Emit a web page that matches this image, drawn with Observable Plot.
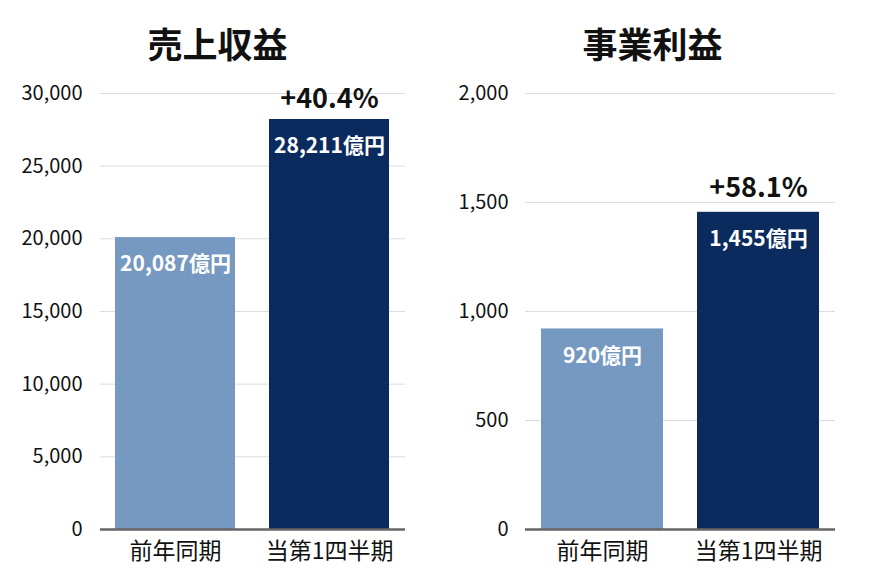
<!DOCTYPE html>
<html><head><meta charset="utf-8">
<script src="https://cdn.jsdelivr.net/npm/d3@7"></script>
<script src="https://cdn.jsdelivr.net/npm/@observablehq/plot@0.6"></script>
<style>
html,body{margin:0;padding:0;background:#fff;}
body{width:870px;height:583px;overflow:hidden;font-family:"Noto Sans CJK JP","Noto Sans",sans-serif;}
#wrap{display:flex;}
.panel{width:435px;}
.title{height:75px;line-height:86px;font-size:35px;font-weight:700;color:#111;text-align:center;}
</style></head>
<body><div id="wrap"></div>
<script>
const periods = ["前年同期", "当第1四半期"];
const revenue = [20087, 28211];
const profit = [920, 1455];
const revenueGrowth = "+40.4%";
const profitGrowth = "+58.1%";
const revenueTicks = [0, 5000, 10000, 15000, 20000, 25000, 30000];
const profitTicks = [0, 500, 1000, 1500, 2000];
const titles = ["売上収益", "事業利益"];
const barColors = ["#7599c0", "#0b2b5f"];

const font = '"Noto Sans CJK JP","Noto Sans",sans-serif';

function panel(title, values, growth, ticks, opts) {
  const data = periods.map((p, i) => ({period: p, value: values[i]}));
  const div = document.createElement("div");
  div.className = "panel";
  const t = document.createElement("div");
  t.className = "title";
  t.textContent = title;
  div.appendChild(t);
  const plot = Plot.plot({
    width: 435,
    height: 508,
    marginTop: 18,
    marginBottom: 54,
    marginLeft: opts.ml,
    marginRight: opts.mr,
    style: {fontFamily: font, background: "#fff", color: "#222"},
    x: {domain: periods, paddingInner: 0.22, paddingOuter: 0.1, label: null},
    y: {domain: [0, ticks[ticks.length - 1]], label: null},
    color: {domain: periods, range: barColors},
    marks: [
      Plot.gridY(ticks, {stroke: "#dcdcdc", strokeOpacity: 1, strokeWidth: 1}),
      Plot.axisY(ticks, {tickSize: 0, tickPadding: opts.tp, fontSize: 20, tickFormat: d3.format(","), fill: "#111", label: null}),
      Plot.axisX({tickSize: 0, tickPadding: 13, fontSize: 23, fill: "#111", label: null}),
      Plot.barY(data, {x: "period", y: "value", fill: "period"}),
      Plot.ruleY([0], {stroke: "#666", strokeWidth: 2.5}),
      Plot.text(data, {x: "period", y: "value", text: d => d3.format(",")(d.value) + "億円", dy: 27, fill: "#fff", fontSize: 21, fontWeight: 700}),
      Plot.text([data[1]], {x: "period", y: "value", text: () => growth, dy: opts.gdy, fill: "#111", fontSize: 27, fontWeight: 700})
    ]
  });
  div.appendChild(plot);
  document.getElementById("wrap").appendChild(div);
}
panel(titles[0], revenue, revenueGrowth, revenueTicks, {ml: 100, mr: 30, tp: 18, gdy: -20});
panel(titles[1], profit, profitGrowth, profitTicks, {ml: 90, mr: 35, tp: 17, gdy: -24});
</script></body></html>
